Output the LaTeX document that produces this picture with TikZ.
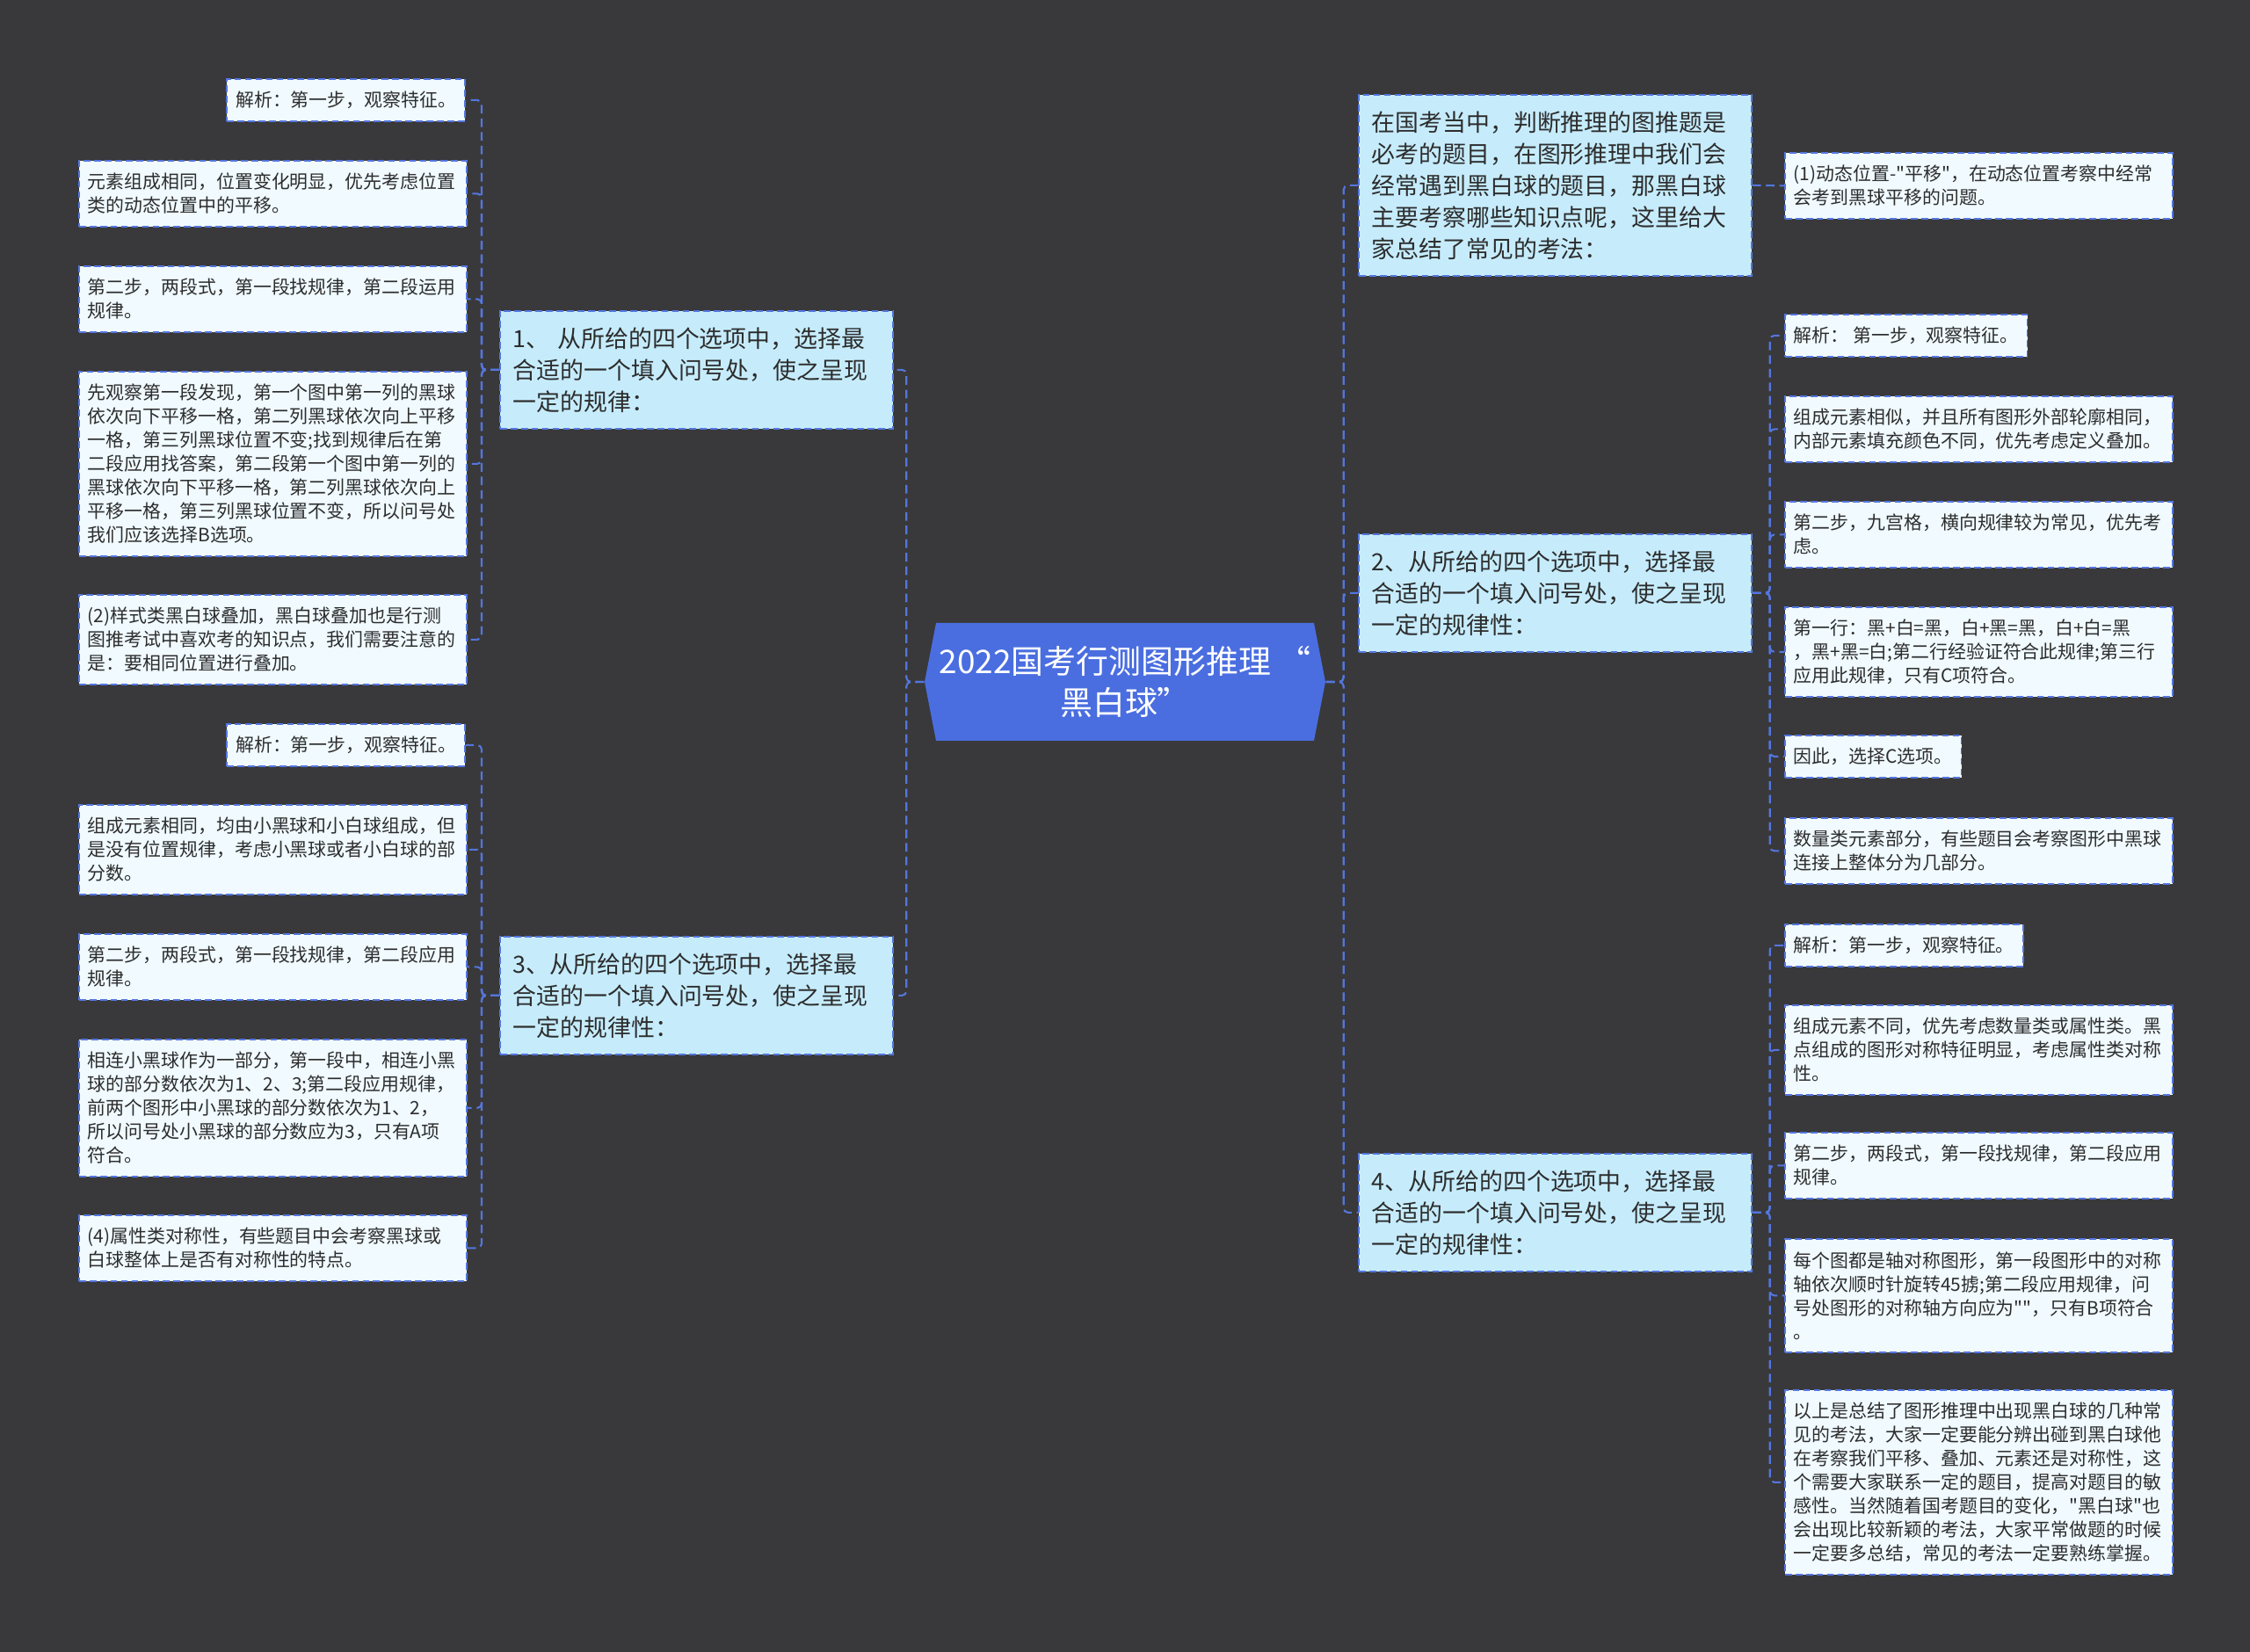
\documentclass[tikz,border=0pt]{standalone}
\usepackage{fontspec}
\setmainfont{Noto Sans CJK SC}[Ligatures=TeXOff]
\definecolor{mmbg}{RGB}{57,57,59}
\definecolor{mmblue}{RGB}{74,110,224}
\definecolor{mmline}{RGB}{84,118,222}
\definecolor{mmsky}{RGB}{198,236,252}
\definecolor{mmpale}{RGB}{240,250,255}
\definecolor{mmtext}{RGB}{45,45,45}
\usetikzlibrary{shapes.symbols}

\begin{document}
\begin{tikzpicture}[
  box/.style={draw=mmline,line width=0.5pt,dash pattern=on 2.2pt off 1.2pt,text=mmtext,inner xsep=0.1cm,inner ysep=0pt,align=left},
  leaf/.style={box,fill=mmpale,font=\fontsize{5.95pt}{7.68pt}\selectfont},
  wide/.style={text width=4.21cm},
  nlines/.style={minimum height=#1*0.27cm+0.21cm},
  branch/.style={box,fill=mmsky,inner xsep=0.15cm,text width=4.17cm,minimum height=#1*0.36cm+0.26cm,font=\fontsize{7.65pt}{10.24pt}\selectfont},
  link/.style={draw=mmline,line width=0.6pt,dash pattern=on 2.8pt off 1.6pt,rounded corners=0.05cm}]
\fill[mmbg] (0,0) rectangle (25.6,-18.8);
\useasboundingbox (0,0) rectangle (25.6,-18.8);

% root
\node[signal,signal to=west and east,signal pointer angle=158,fill=mmblue,text=white,minimum width=4.56cm,minimum height=1.34cm,inner sep=0pt,align=center,font=\fontsize{10.5pt}{13.4pt}\selectfont] (root) at (12.80,-7.76) {2022国考行测图形推理 “\\黑白球”};

% left, branch 1
\node[branch=3,anchor=north west] (b1) at (5.68,-3.53) {1、~从所给的四个选项中，选择最\\合适的一个填入问号处，使之呈现\\一定的规律：};
\node[leaf,nlines=1,anchor=north east] (l1) at (5.30,-0.89) {解析：第一步，观察特征。};
\node[leaf,wide,nlines=2,anchor=north west] (l2) at (0.89,-1.82) {元素组成相同，位置变化明显，优先考虑位置\\类的动态位置中的平移。};
\node[leaf,wide,nlines=2,anchor=north west] (l3) at (0.89,-3.02) {第二步，两段式，第一段找规律，第二段运用\\规律。};
\node[leaf,wide,nlines=7,anchor=north west] (l4) at (0.89,-4.22) {先观察第一段发现，第一个图中第一列的黑球\\依次向下平移一格，第二列黑球依次向上平移\\一格，第三列黑球位置不变;找到规律后在第\\二段应用找答案，第二段第一个图中第一列的\\黑球依次向下平移一格，第二列黑球依次向上\\平移一格，第三列黑球位置不变，所以问号处\\我们应该选择B选项。};
\node[leaf,wide,nlines=3,anchor=north west] (l5) at (0.89,-6.76) {(2)样式类黑白球叠加，黑白球叠加也是行测\\图推考试中喜欢考的知识点，我们需要注意的\\是：要相同位置进行叠加。};

% left, branch 3
\node[branch=3,anchor=north west] (b3) at (5.68,-10.65) {3、从所给的四个选项中，选择最\\合适的一个填入问号处，使之呈现\\一定的规律性：};
\node[leaf,nlines=1,anchor=north east] (l6) at (5.30,-8.23) {解析：第一步，观察特征。};
\node[leaf,wide,nlines=3,anchor=north west] (l7) at (0.89,-9.15) {组成元素相同，均由小黑球和小白球组成，但\\是没有位置规律，考虑小黑球或者小白球的部\\分数。};
\node[leaf,wide,nlines=2,anchor=north west] (l8) at (0.89,-10.62) {第二步，两段式，第一段找规律，第二段应用\\规律。};
\node[leaf,wide,nlines=5,anchor=north west] (l9) at (0.89,-11.82) {相连小黑球作为一部分，第一段中，相连小黑\\球的部分数依次为1、2、3;第二段应用规律，\\前两个图形中小黑球的部分数依次为1、2，\\所以问号处小黑球的部分数应为3，只有A项\\符合。};
\node[leaf,wide,nlines=2,anchor=north west] (l10) at (0.89,-13.82) {(4)属性类对称性，有些题目中会考察黑球或\\白球整体上是否有对称性的特点。};

% right, intro
\node[branch=5,anchor=north west] (intro) at (15.45,-1.07) {在国考当中，判断推理的图推题是\\必考的题目，在图形推理中我们会\\经常遇到黑白球的题目，那黑白球\\主要考察哪些知识点呢，这里给大\\家总结了常见的考法：};
\node[leaf,wide,nlines=2,anchor=north west] (r1) at (20.30,-1.73) {\mbox{(1)动态位置-"平移"，在动态位置考察中经常}\\会考到黑球平移的问题。};

% right, branch 2
\node[branch=3,anchor=north west] (b2) at (15.45,-6.07) {2、从所给的四个选项中，选择最\\合适的一个填入问号处，使之呈现\\一定的规律性：};
\node[leaf,nlines=1,anchor=north west] (r2) at (20.30,-3.57) {解析：~第一步，观察特征。};
\node[leaf,wide,nlines=2,anchor=north west] (r3) at (20.30,-4.50) {组成元素相似，并且所有图形外部轮廓相同，\\内部元素填充颜色不同，优先考虑定义叠加。};
\node[leaf,wide,nlines=2,anchor=north west] (r4) at (20.30,-5.70) {第二步，九宫格，横向规律较为常见，优先考\\虑。};
\node[leaf,wide,nlines=3,anchor=north west] (r5) at (20.30,-6.90) {第一行：黑+白=黑，白+黑=黑，白+白=黑\\，黑+黑=白;第二行经验证符合此规律;第三行\\应用此规律，只有C项符合。};
\node[leaf,nlines=1,anchor=north west] (r6) at (20.30,-8.36) {因此，选择C选项。};
\node[leaf,wide,nlines=2,anchor=north west] (r7) at (20.30,-9.30) {数量类元素部分，有些题目会考察图形中黑球\\连接上整体分为几部分。};

% right, branch 4
\node[branch=3,anchor=north west] (b4) at (15.45,-13.12) {4、从所给的四个选项中，选择最\\合适的一个填入问号处，使之呈现\\一定的规律性：};
\node[leaf,nlines=1,anchor=north west] (r8) at (20.30,-10.51) {解析：第一步，观察特征。};
\node[leaf,wide,nlines=3,anchor=north west] (r9) at (20.30,-11.43) {组成元素不同，优先考虑数量类或属性类。黑\\点组成的图形对称特征明显，考虑属性类对称\\性。};
\node[leaf,wide,nlines=2,anchor=north west] (r10) at (20.30,-12.88) {第二步，两段式，第一段找规律，第二段应用\\规律。};
\node[leaf,wide,nlines=4,anchor=north west] (r11) at (20.30,-14.09) {每个图都是轴对称图形，第一段图形中的对称\\轴依次顺时针旋转45掳;第二段应用规律，问\\号处图形的对称轴方向应为""，只有B项符合\\。};
\node[leaf,wide,nlines=7,anchor=north west] (r12) at (20.30,-15.81) {以上是总结了图形推理中出现黑白球的几种常\\见的考法，大家一定要能分辨出碰到黑白球他\\在考察我们平移、叠加、元素还是对称性，这\\个需要大家联系一定的题目，提高对题目的敏\\感性。当然随着国考题目的变化，"黑白球"也\\会出现比较新颖的考法，大家平常做题的时候\\一定要多总结，常见的考法一定要熟练掌握。};

% connectors
\foreach \b in {b1,b3} \draw[link] (root.west) -- ++(-0.2,0) |- (\b.east);
\foreach \b in {intro,b2,b4} \draw[link] (root.east) -- ++(0.2,0) |- (\b.west);
\draw[link] (intro.east) -- (r1.west);
\foreach \i in {1,...,5} \draw[link] (b1.west) -- ++(-0.2,0) |- (l\i.east);
\foreach \i in {6,...,10} \draw[link] (b3.west) -- ++(-0.2,0) |- (l\i.east);
\foreach \i in {2,...,7} \draw[link] (b2.east) -- ++(0.2,0) |- (r\i.west);
\foreach \i in {8,...,12} \draw[link] (b4.east) -- ++(0.2,0) |- (r\i.west);
\end{tikzpicture}
\end{document}
